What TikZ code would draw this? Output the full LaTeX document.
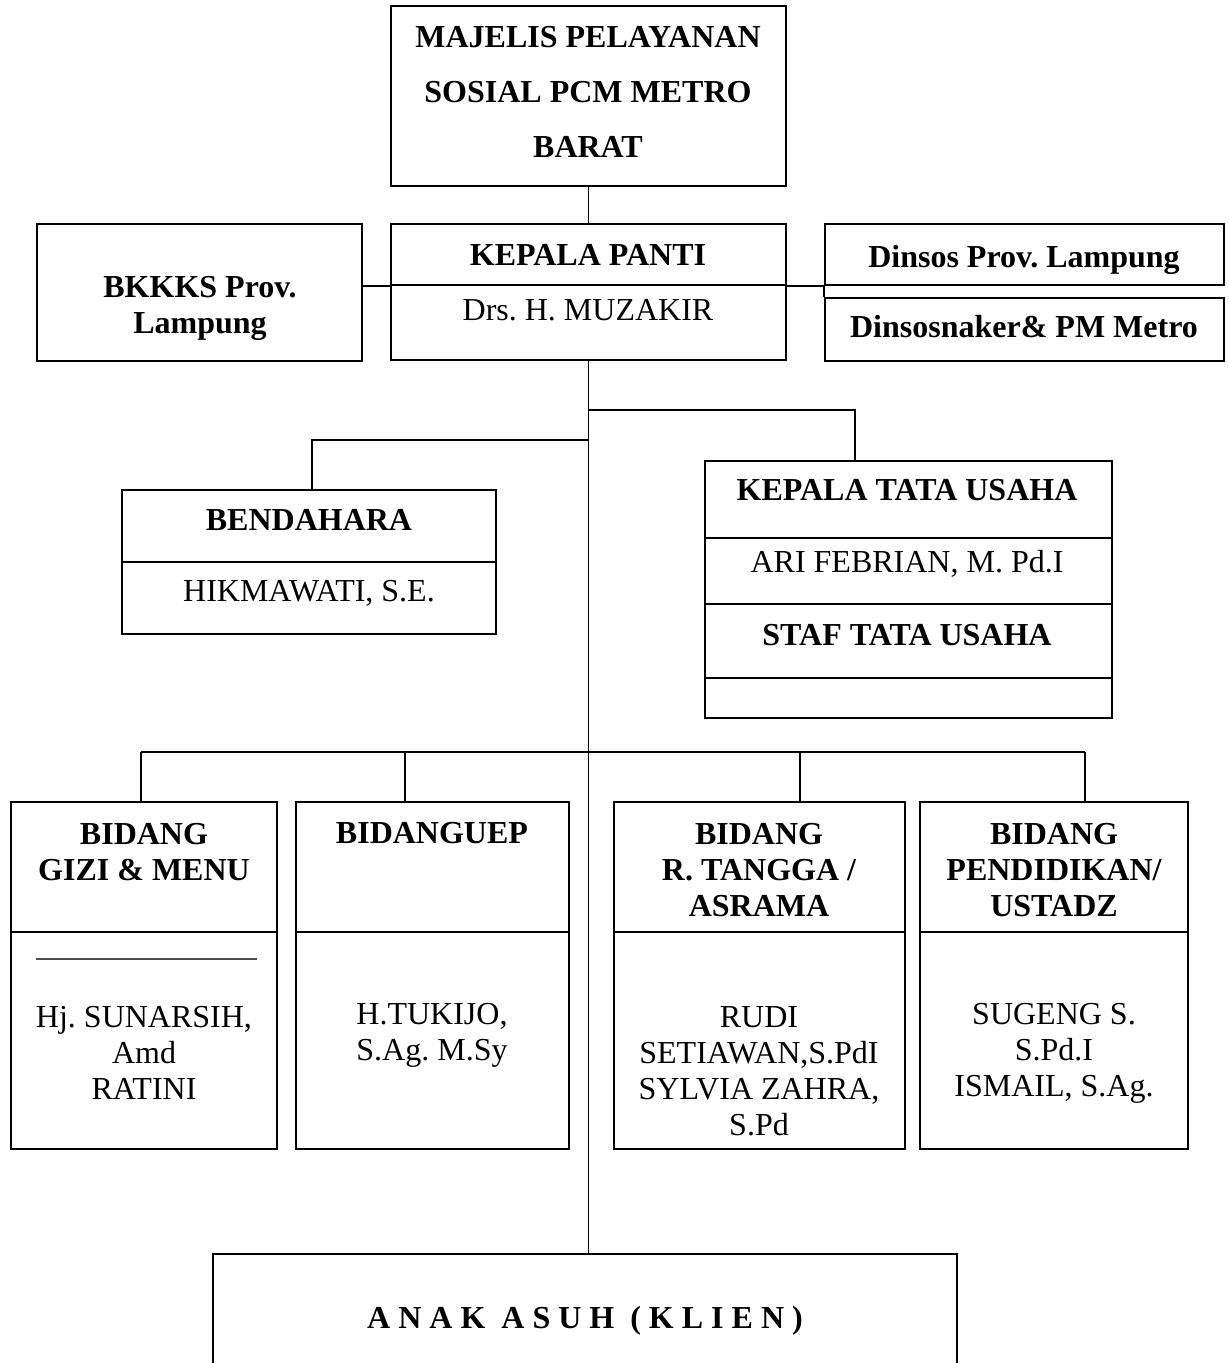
\documentclass[tikz,border=0pt]{standalone}
\usepackage{fontspec}
\setmainfont{Liberation Serif}
\frenchspacing
\usetikzlibrary{positioning,calc,fit}
\tikzset{
  orgbox/.style={draw, line width=1pt, inner sep=0pt},
  boxtitle/.style={align=center, font=\fontsize{16}{18}\selectfont\bfseries},
  boxname/.style={align=center, font=\fontsize{16}{18}\selectfont},
  link/.style={line width=0.7pt},
}

\begin{document}
\begin{tikzpicture}[x=0.5pt, y=-0.5pt]
    \useasboundingbox (0,0) rectangle (1229,1363);
    \clip (0,0) rectangle (1229,1363);

    % Top level
    \node [orgbox, fit={(391,6) (786,186)}] (majelis) {};
    \node [orgbox, fit={(391,224) (786,285)}] (kepala) {};
    \node [orgbox, fit={(391,285) (786,360)}] (kepalanm) {};
    \node [orgbox, fit={(37,224) (362,361)}] (bkkks) {};
    \node [orgbox, fit={(825,224) (1224,285)}] (dinsos) {};
    \node [orgbox, fit={(825,298) (1224,361)}] (dinsosnaker) {};

    \node [boxtitle, font=\fontsize{16}{27.5}\selectfont\bfseries] (tmajelis) at (588,92) {MAJELIS PELAYANAN\\SOSIAL PCM METRO\\BARAT};
    \node [boxtitle] (tkepala) at (588,255) {KEPALA PANTI};
    \node [boxname] (nkepala) at (588,310) {Drs. H. MUZAKIR};
    \node [boxtitle] (tbkkks) at (200,308) {BKKKS Prov.\\Lampung};
    \node [boxtitle] (tdinsos) at (1024,260) {Dinsos Prov. Lampung};
    \node [boxtitle] (tdinsosnaker) at (1024,327) {Dinsosnaker\& PM Metro};

    % Staff
    \node [orgbox, fit={(122,490) (496,562)}] (bendahara) {};
    \node [orgbox, fit={(122,562) (496,634)}] (bendaharanm) {};
    \node [boxtitle] (tbendahara) at (309,520) {BENDAHARA};
    \node [boxname] (nbendahara) at (309,593) {HIKMAWATI, S.E.};

    \node [orgbox, fit={(705,461) (1112,538)}] (ktu) {};
    \node [orgbox, fit={(705,538) (1112,604)}] (ktunm) {};
    \node [orgbox, fit={(705,604) (1112,678)}] (staf) {};
    \node [orgbox, fit={(705,678) (1112,718)}] (stafnm) {};
    \node [boxtitle] (tktu) at (907,490) {KEPALA TATA USAHA};
    \node [boxname] (nktu) at (907,564) {ARI FEBRIAN, M. Pd.I};
    \node [boxtitle] (tstaf) at (907,635) {STAF TATA USAHA};

    % Bidang
    \node [orgbox, fit={(11,802) (277,932)}] (gizi) {};
    \node [orgbox, fit={(11,932) (277,1149)}] (gizinm) {};
    \node [orgbox, fit={(296,802) (569,932)}] (uep) {};
    \node [orgbox, fit={(296,932) (569,1149)}] (uepnm) {};
    \node [orgbox, fit={(614,802) (905,932)}] (asrama) {};
    \node [orgbox, fit={(614,932) (905,1149)}] (asramanm) {};
    \node [orgbox, fit={(920,802) (1188,932)}] (ustadz) {};
    \node [orgbox, fit={(920,932) (1188,1149)}] (ustadznm) {};

    \node [boxtitle] (tgizi) at (144,852) {BIDANG\\GIZI \& MENU};
    \node [boxtitle] (tuep) at (432,833) {BIDANGUEP};
    \node [boxtitle] (tasrama) at (759,870) {BIDANG\\R. TANGGA /\\ASRAMA};
    \node [boxtitle] (tustadz) at (1054,870) {BIDANG\\PENDIDIKAN/\\USTADZ};

    \draw [gray!60!black, line width=0.6pt] (36,959) -- (257,959);
    \node [boxname] (ngizi) at (144,1053) {Hj. SUNARSIH,\\Amd\\RATINI};
    \node [boxname] (nuep) at (432,1035) {H.TUKIJO,\\S.Ag. M.Sy};
    \node [boxname] (nasrama) at (759,1071) {RUDI\\SETIAWAN,S.PdI\\SYLVIA ZAHRA,\\S.Pd};
    \node [boxname] (nustadz) at (1054,1053) {SUGENG S.\\S.Pd.I\\ISMAIL, S.Ag.};

    % Anak asuh
    \node [orgbox, fit={(213,1254) (957,1420)}] (anak) {};
    \node [boxtitle] (tanak) at (585,1321) {A N A K\ \ A S U H\ \ ( K L I E N )};

    % Connectors
    \draw [link] (majelis.south) -- (kepala.north);
    \draw [link] (bkkks.east |- kepala.south) -- (kepala.south west);
    \draw [link] (kepala.south east) -- (dinsos.south west);
    \draw [link] (dinsos.south west) -- (dinsosnaker.north west);
    \draw [link] (kepalanm.south) -- (kepalanm.south |- anak.north);

    \coordinate (tu) at (855,410);
    \coordinate (bd) at (312,440);
    \draw [link] (kepalanm.south |- tu) -- (tu) -- (tu |- ktu.north);
    \draw [link] (kepalanm.south |- bd) -- (bd) -- (bd |- bendahara.north);

    \coordinate (d1) at (141,752);
    \coordinate (d2) at (405,752);
    \coordinate (d3) at (800,752);
    \coordinate (d4) at (1085,752);
    \draw [link, line width=1pt] (d1) -- (d4);
    \draw [link] (d1) -- (d1 |- gizi.north);
    \draw [link] (d2) -- (d2 |- uep.north);
    \draw [link] (d3) -- (d3 |- asrama.north);
    \draw [link] (d4) -- (d4 |- ustadz.north);

\end{tikzpicture}
\end{document}
